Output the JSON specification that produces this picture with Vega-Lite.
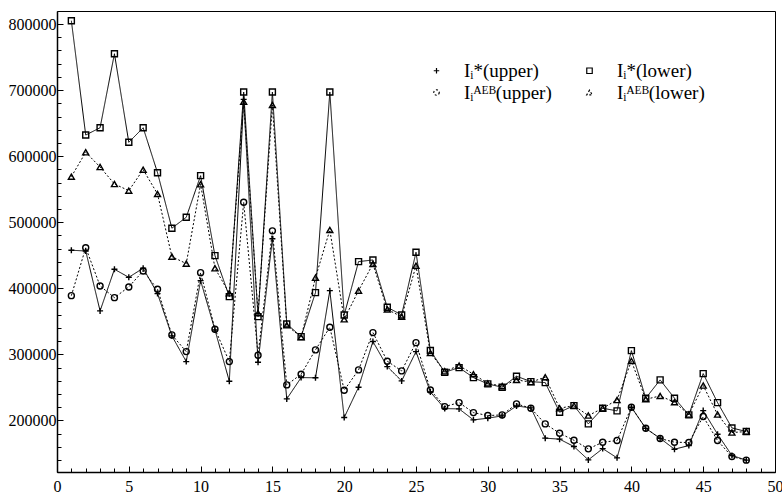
{
  "$schema": "https://vega.github.io/schema/vega-lite/v6.json",
  "width": 718,
  "height": 461,
  "autosize": "none",
  "padding": {"left": 57, "top": 11, "right": 7, "bottom": 21},
  "background": "white",
  "config": {
    "view": {"stroke": "black", "strokeWidth": 1}
  },
  "data": {"values": [
    {"x":1,"u":457600,"l":805000,"au":388900,"al":569000},
    {"x":2,"u":456500,"l":632000,"au":461500,"al":605900},
    {"x":3,"u":365800,"l":643000,"au":403600,"al":583600},
    {"x":4,"u":428800,"l":755000,"au":385900,"al":557900},
    {"x":5,"u":416700,"l":621000,"au":402100,"al":547800},
    {"x":6,"u":430400,"l":643000,"au":426300,"al":579600},
    {"x":7,"u":392000,"l":575000,"au":398600,"al":542800},
    {"x":8,"u":328000,"l":491000,"au":329500,"al":448000},
    {"x":9,"u":289100,"l":507500,"au":304200,"al":437400},
    {"x":10,"u":411600,"l":570500,"au":423700,"al":557500},
    {"x":11,"u":337000,"l":449500,"au":338100,"al":430400},
    {"x":12,"u":259400,"l":387400,"au":289100,"al":392500},
    {"x":13,"u":686000,"l":697100,"au":530200,"al":682500},
    {"x":14,"u":288200,"l":357200,"au":298700,"al":362300},
    {"x":15,"u":475000,"l":697100,"au":487000,"al":677400},
    {"x":16,"u":232600,"l":346100,"au":253800,"al":344000},
    {"x":17,"u":264900,"l":326900,"au":270000,"al":326000},
    {"x":18,"u":264600,"l":393500,"au":306800,"al":416200},
    {"x":19,"u":396500,"l":697100,"au":341100,"al":488300},
    {"x":20,"u":204400,"l":359700,"au":245800,"al":353200},
    {"x":21,"u":250300,"l":440400,"au":276500,"al":396500},
    {"x":22,"u":319400,"l":442900,"au":333000,"al":436900},
    {"x":23,"u":281500,"l":371300,"au":289700,"al":368000},
    {"x":24,"u":259900,"l":359700,"au":275000,"al":357000},
    {"x":25,"u":304200,"l":454600,"au":317800,"al":434300},
    {"x":26,"u":243000,"l":305800,"au":246200,"al":302000},
    {"x":27,"u":218000,"l":273000,"au":221000,"al":274500},
    {"x":28,"u":217500,"l":280000,"au":227000,"al":283000},
    {"x":29,"u":200900,"l":264900,"au":211900,"al":270000},
    {"x":30,"u":203400,"l":255300,"au":207400,"al":256000},
    {"x":31,"u":207000,"l":250300,"au":208400,"al":252000},
    {"x":32,"u":222000,"l":267000,"au":225100,"al":261400},
    {"x":33,"u":219000,"l":258800,"au":218500,"al":258000},
    {"x":34,"u":173200,"l":257300,"au":194800,"al":265500},
    {"x":35,"u":171700,"l":212500,"au":180700,"al":218500},
    {"x":36,"u":160500,"l":222500,"au":170000,"al":222500},
    {"x":37,"u":140300,"l":194800,"au":157000,"al":207400},
    {"x":38,"u":157400,"l":218500,"au":167100,"al":218500},
    {"x":39,"u":143400,"l":214500,"au":169600,"al":231000},
    {"x":40,"u":220000,"l":305700,"au":220000,"al":290100},
    {"x":41,"u":188000,"l":233700,"au":188300,"al":232000},
    {"x":42,"u":173000,"l":261400,"au":172600,"al":237200},
    {"x":43,"u":156500,"l":233700,"au":167100,"al":227600},
    {"x":44,"u":162000,"l":208400,"au":166600,"al":209000},
    {"x":45,"u":214900,"l":270900,"au":205900,"al":252800},
    {"x":46,"u":179200,"l":227000,"au":169600,"al":209000},
    {"x":47,"u":147000,"l":188700,"au":145300,"al":181700},
    {"x":48,"u":140000,"l":183200,"au":139900,"al":183200}
  ]},
  "transform": [{"fold": ["u", "l", "au", "al"], "as": ["s", "v"]}],
  "layer": [
    {
      "mark": {"type": "line", "color": "black", "strokeWidth": 1},
      "encoding": {
        "x": {"field": "x", "type": "quantitative",
          "scale": {"domain": [0, 50], "nice": false, "zero": false},
          "axis": {"orient": "bottom", "values": [1,2,3,4,6,7,8,9,11,12,13,14,16,17,18,19,21,22,23,24,26,27,28,29,31,32,33,34,36,37,38,39,41,42,43,44,46,47,48,49],
            "title": null, "grid": false, "labels": false, "domain": false,
            "tickColor": "black", "tickSize": -4}},
        "y": {"field": "v", "type": "quantitative",
          "scale": {"domain": [122000, 819700], "nice": false, "zero": false},
          "axis": {"orient": "left", "values": [140000,160000,180000,220000,240000,260000,280000,320000,340000,360000,380000,420000,440000,460000,480000,520000,540000,560000,580000,620000,640000,660000,680000,720000,740000,760000,780000],
            "title": null, "grid": false, "labels": false, "domain": false,
            "tickColor": "black", "tickSize": -4}},
        "strokeDash": {"field": "s", "type": "nominal",
          "scale": {"domain": ["u", "au", "l", "al"], "range": [[1, 0], [2, 2], [1, 0], [2, 2]]},
          "legend": {"orient": "none", "legendX": 370, "legendY": 50, "columns": 2, "title": null,
            "labelFont": "Liberation Serif", "labelFontSize": 19, "labelColor": "black",
            "rowPadding": 2, "columnPadding": 28, "labelOffset": 18,
            "labelExpr": "datum.value == 'u' ? 'Iᵢ*(upper)' : datum.value == 'l' ? 'Iᵢ*(lower)' : datum.value == 'au' ? 'Iᵢᴬᴱᴮ(upper)' : 'Iᵢᴬᴱᴮ(lower)'"}}
      }
    },
    {
      "mark": {"type": "point", "filled": false, "color": "black", "strokeWidth": 1.4, "size": 36, "opacity": 1},
      "encoding": {
        "x": {"field": "x", "type": "quantitative",
          "axis": {"orient": "bottom", "values": [0,5,10,15,20,25,30,35,40,45,50],
            "title": null, "grid": false,
            "labelFont": "Liberation Serif", "labelFontSize": 16, "labelColor": "black",
            "domainColor": "black", "domainWidth": 1.5, "tickColor": "black",
            "tickSize": -6, "labelPadding": 12, "labelFlush": false, "labelOverlap": false}},
        "y": {"field": "v", "type": "quantitative",
          "axis": {"orient": "left", "values": [200000,300000,400000,500000,600000,700000,800000],
            "title": null, "grid": false,
            "labelFont": "Liberation Serif", "labelFontSize": 16, "labelColor": "black",
            "domainColor": "black", "domainWidth": 1.5, "tickColor": "black",
            "format": "d", "tickSize": -6, "labelPadding": 7, "labelOverlap": false}},
        "shape": {"field": "s", "type": "nominal",
          "scale": {"domain": ["u", "au", "l", "al"], "range": ["M-1,0H1M0,-1V1", "circle", "square", "triangle-up"]},
          "legend": {"orient": "none", "legendX": 370, "legendY": 50, "columns": 2, "title": null,
            "labelFont": "Liberation Serif", "labelFontSize": 19, "labelColor": "black",
            "symbolStrokeColor": "black", "symbolStrokeWidth": 1.2, "symbolSize": 30,
            "rowPadding": 2, "columnPadding": 28, "labelOffset": 18,
            "labelExpr": "datum.value == 'u' ? 'Iᵢ*(upper)' : datum.value == 'l' ? 'Iᵢ*(lower)' : datum.value == 'au' ? 'Iᵢᴬᴱᴮ(upper)' : 'Iᵢᴬᴱᴮ(lower)'"}}
      }
    }
  ],
  "resolve": {"scale": {"x": "shared", "y": "shared"}, "axis": {"x": "independent", "y": "independent"}}
}
